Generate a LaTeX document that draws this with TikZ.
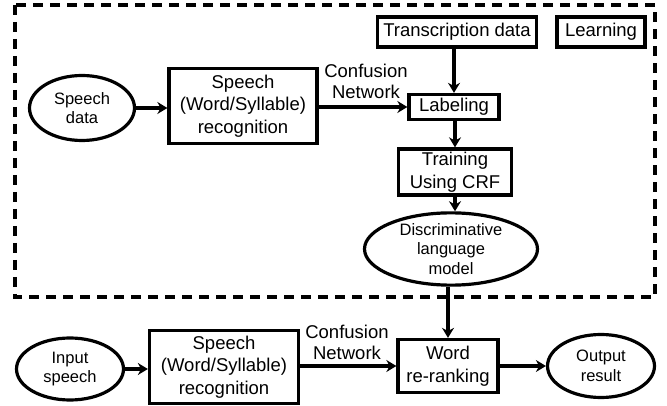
\documentclass[tikz,border=0pt]{standalone}
\usepackage{fontspec}
\setmainfont{Liberation Sans}
\usetikzlibrary{shapes.geometric,arrows.meta}
\begin{document}
\begin{tikzpicture}[x=1pt,y=-1pt,
  box/.style={draw,line width=3.3pt,rectangle,inner sep=0pt,align=center,
    font=\fontsize{18.5}{22.5}\selectfont},
  oval/.style={draw,line width=3.2pt,ellipse,inner sep=0pt,align=center,
    font=\fontsize{16.5}{19.5}\selectfont},
  lbl/.style={align=center,inner sep=0pt,font=\fontsize{18.5}{21}\selectfont},
  arr/.style={line width=3.3pt,-{Stealth[length=10pt,width=12pt]}},
  dashbox/.style={line width=3.8pt,dash pattern=on 10pt off 7pt}]
\useasboundingbox (0,0) rectangle (667,406);
\draw[dashbox] (15,5) rectangle (655,297);
% upper part
\node[oval,minimum width=105,minimum height=65] (sd) at (82,108) {Speech\\data};
\node[box,minimum width=148,minimum height=75] (sr) at (243,106) {Speech\\(Word/Syllable)\\recognition};
\node[box,minimum width=159,minimum height=30] (tr) at (457,32) {Transcription data};
\node[box,minimum width=88,minimum height=30] (le) at (601,32) {Learning};
\node[box,minimum width=90,minimum height=25] (lab) at (454,107) {Labeling};
\node[box,minimum width=113,minimum height=46] (trn) at (455,172) {Training\\Using CRF};
\node[oval,minimum width=173,minimum height=65] (dlm) at (451,249) {Discriminative\\language\\model};
\node[lbl] (cn1) at (366,81) {Confusion\\Network};
% lower part
\node[oval,minimum width=107,minimum height=62] (is) at (70,369) {Input\\speech};
\node[box,minimum width=149,minimum height=73] (sr2) at (224,367) {Speech\\(Word/Syllable)\\recognition};
\node[box,minimum width=100,minimum height=53] (wr) at (448,366) {Word\\re-ranking};
\node[oval,minimum width=107,minimum height=63] (or) at (601,366) {Output\\result};
\node[lbl] (cn2) at (347,342) {Confusion\\Network};
% arrows
\draw[arr] (sd) -- (sd -| sr.west);
\draw[arr] (sr.east |- lab) -- (lab.west);
\draw[arr] (tr.south -| lab) -- (lab.north);
\draw[arr] (lab.south -| 455,0) -- (trn.north);
\draw[arr] (trn.south) -- (trn.south |- dlm.north);
\draw[arr] (dlm.south -| wr) -- (wr.north);
\draw[arr] (is.east) -- (is -| sr2.west);
\draw[arr] (sr2.east |- wr) -- (wr.west);
\draw[arr] (wr.east) -- (wr -| or.west);
\end{tikzpicture}
\end{document}
